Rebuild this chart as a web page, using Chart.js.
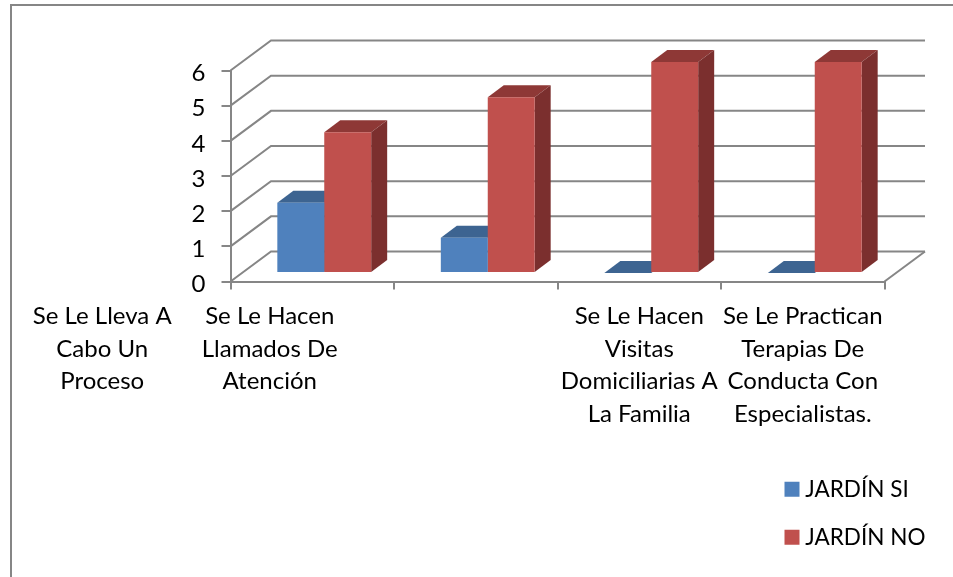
<!DOCTYPE html>
<html>
<head>
<meta charset="utf-8">
<script src="https://cdn.jsdelivr.net/npm/chart.js@4"></script>
<style>
  html, body { margin: 0; padding: 0; background: #fff; overflow: hidden; }
  canvas { position: absolute; left: 0; top: 0; }
  #frame { position: absolute; left: 10px; top: 4px; width: 943px; height: 573px;
           border-left: 2px solid #868686; border-top: 2px solid #868686; box-sizing: border-box; }
</style>
</head>
<body>
<canvas id="chart" width="953" height="577"></canvas>
<div id="frame"></div>
<script>
var categories = [
  ["Se Le Lleva A", "Cabo Un", "Proceso"],
  ["Se Le Hacen", "Llamados De", "Atención"],
  ["Se Le Hacen", "Visitas", "Domiciliarias A", "La Familia"],
  ["Se Le Practican", "Terapias De", "Conducta Con", "Especialistas."]
];
var jardinSi = [2, 1, 0, 0];
var jardinNo = [4, 5, 6, 6];
var yTicks = [0, 1, 2, 3, 4, 5, 6];

// the first two labels sit left of their categories in the original
var labelShift = [-210, -206, 0, 0];

var gridColor = "#868686";
var fontName = "Lato, 'Open Sans', sans-serif";
var wall = { dx: 40.5, dy: -30 };    // depth of the floor
var barGap = { dx: 12, dy: -8.5 };   // bars stand a bit inside the floor
var barDepth = { dx: 16, dy: -12 };
var shades = [
  { top: "#3D6491", side: "#2F4D71" },
  { top: "#8E3836", side: "#7B2F2E" }
];

function poly(ctx, pts, color) {
  ctx.fillStyle = color;
  ctx.beginPath();
  ctx.moveTo(pts[0][0], pts[0][1]);
  for (var i = 1; i < pts.length; i++) ctx.lineTo(pts[i][0], pts[i][1]);
  ctx.closePath();
  ctx.fill();
}

var box3d = {
  id: "box3d",
  beforeDatasetsDraw: function(chart) {
    var ctx = chart.ctx, area = chart.chartArea, y = chart.scales.y;

    // back wall + side wall lines
    ctx.save();
    ctx.strokeStyle = gridColor;
    ctx.lineWidth = 2;
    yTicks.forEach(function(t) {
      var py = y.getPixelForValue(t);
      ctx.beginPath();
      ctx.moveTo(area.left, py);
      ctx.lineTo(area.left + wall.dx, py + wall.dy);
      ctx.lineTo(area.right + wall.dx, py + wall.dy);
      ctx.stroke();
    });
    ctx.beginPath();
    ctx.moveTo(area.right, area.bottom);
    ctx.lineTo(area.right + wall.dx, area.bottom + wall.dy);
    ctx.stroke();
    ctx.restore();

    // everything for the bars is moved back from the axis
    ctx.save();
    ctx.translate(barGap.dx, barGap.dy);
    chart.data.datasets.forEach(function(ds, i) {
      chart.getDatasetMeta(i).data.forEach(function(bar) {
        var l = bar.x - bar.width / 2, r = bar.x + bar.width / 2;
        poly(ctx, [[l, bar.y], [r, bar.y], [r + barDepth.dx, bar.y + barDepth.dy], [l + barDepth.dx, bar.y + barDepth.dy]], shades[i].top);
        poly(ctx, [[r, bar.y], [r + barDepth.dx, bar.y + barDepth.dy], [r + barDepth.dx, bar.base + barDepth.dy], [r, bar.base]], shades[i].side);
      });
    });
  },
  afterDatasetsDraw: function(chart) {
    chart.ctx.restore();
  },
  beforeDraw: function(chart) {
    var items = chart.scales.x.getLabelItems();
    if (!items.shifted) {
      items.shifted = true;
      items.forEach(function(item, i) {
        item.options.translation[0] += labelShift[i];
      });
    }
    // Lato digits ride a little high next to the tick
    var yItems = chart.scales.y.getLabelItems();
    if (!yItems.shifted) {
      yItems.shifted = true;
      yItems.forEach(function(item) {
        item.options.translation[1] += 3;
      });
    }
  },
  afterLayout: function(chart) {
    var lg = chart.legend;
    lg.left = 764.5;
    lg.top = 452.5;
    lg.right = 953;
    lg.bottom = 640;
  }
};

new Chart(document.getElementById("chart"), {
  type: "bar",
  data: {
    labels: categories,
    datasets: [
      { label: "JARDÍN SI", data: jardinSi, backgroundColor: "#4F81BD", borderWidth: 0, clip: false },
      { label: "JARDÍN NO", data: jardinNo, backgroundColor: "#C0504D", borderWidth: 0, clip: false }
    ]
  },
  plugins: [box3d],
  options: {
    responsive: false,
    animation: false,
    events: [],
    categoryPercentage: 0.574,
    barPercentage: 1,
    layout: { padding: { top: 70.5, right: 68.5, bottom: 0, left: 0 } },
    scales: {
      x: {
        grid: { color: gridColor, lineWidth: 2, tickLength: 8, drawOnChartArea: false },
        border: { color: gridColor, width: 2 },
        ticks: {
          color: "#000",
          autoSkip: false,
          maxRotation: 0,
          padding: 11,
          font: { family: fontName, size: 24, lineHeight: 1.354 }
        },
        afterFit: function(scale) { scale.height = 295.5; }
      },
      y: {
        min: 0,
        max: 6,
        grid: { color: gridColor, lineWidth: 2, tickLength: 9, drawOnChartArea: false },
        border: { color: gridColor, width: 2 },
        ticks: {
          color: "#000",
          stepSize: 1,
          padding: 16,
          font: { family: fontName, size: 24 }
        },
        afterFit: function(scale) { scale.width = 230.5; }
      }
    },
    plugins: {
      title: { display: false },
      tooltip: { enabled: false },
      legend: {
        position: "chartArea",
        align: "start",
        labels: {
          // small box with a heavy stroke keeps the text close to the 15px swatch
          boxWidth: 4,
          boxHeight: 4,
          padding: 25.5,
          color: "#000",
          font: { family: fontName, size: 22.5 },
          generateLabels: function(chart) {
            return Chart.defaults.plugins.legend.labels.generateLabels(chart).map(function(item) {
              item.strokeStyle = item.fillStyle;
              item.lineWidth = 11;
              return item;
            });
          }
        }
      }
    }
  }
});
</script>
</body>
</html>
